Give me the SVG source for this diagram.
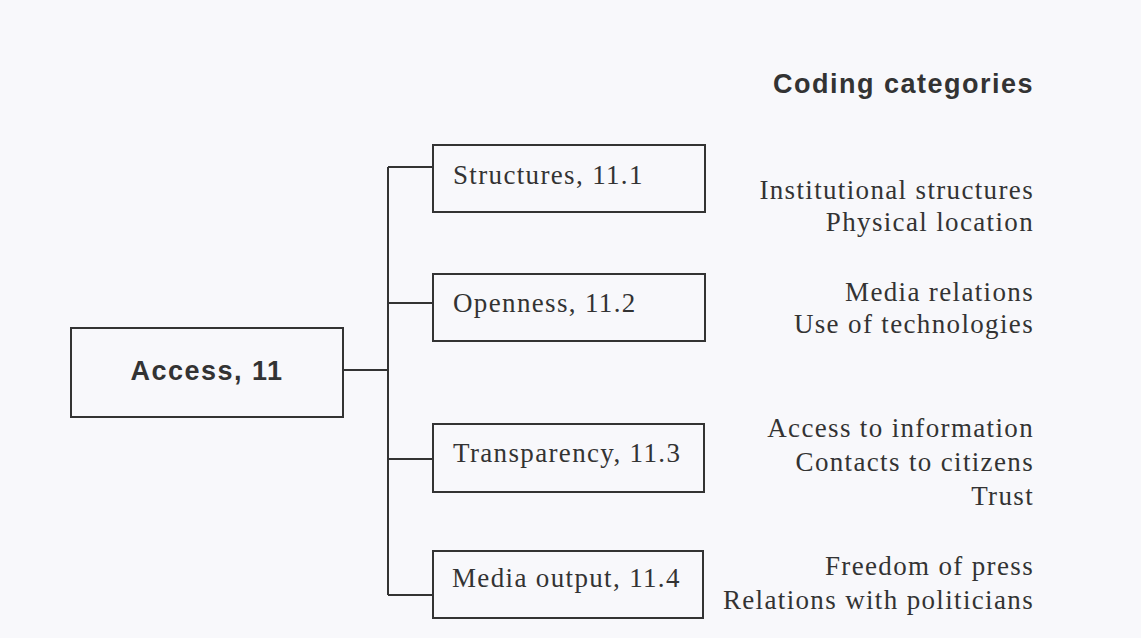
<svg xmlns="http://www.w3.org/2000/svg" width="1141" height="638" viewBox="0 0 1141 638">
<style>
.bg{fill:#f8f8fb}
.box{fill:none;stroke:#333;stroke-width:2}
.ln{fill:none;stroke:#333;stroke-width:2}
.ser{font-family:"Liberation Serif","Times New Roman",serif;font-size:27px;letter-spacing:1.35px;fill:#333}
.sb{font-family:"Liberation Sans",Arial,sans-serif;font-size:27px;font-weight:bold;letter-spacing:1.5px;fill:#333}
.r{text-anchor:end}
</style>
<rect class="bg" x="0" y="0" width="1141" height="638"/>
<g id="connectors">
<path class="ln" d="M343,370 H388 M388,167 V595 M388,167 H433 M388,303 H433 M388,459 H433 M388,595 H433"/>
</g>
<g id="access">
<rect class="box" x="71" y="328" width="272" height="89"/>
<text class="sb" x="207" y="380" text-anchor="middle">Access, 11</text>
</g>
<g id="structures">
<rect class="box" x="433" y="145" width="272" height="67"/>
<text class="ser" x="453" y="184">Structures, 11.1</text>
</g>
<g id="openness">
<rect class="box" x="433" y="274" width="272" height="67"/>
<text class="ser" x="453" y="312">Openness, 11.2</text>
</g>
<g id="transparency">
<rect class="box" x="433" y="424" width="271" height="68"/>
<text class="ser" x="453" y="462">Transparency, 11.3</text>
</g>
<g id="media-output">
<rect class="box" x="433" y="551" width="270" height="67"/>
<text class="ser" x="452" y="587">Media output, 11.4</text>
</g>
<g id="coding-categories">
<text class="sb r" x="1034" y="93">Coding categories</text>
<text class="ser r" x="1034" y="199">Institutional structures</text>
<text class="ser r" x="1034" y="231">Physical location</text>
<text class="ser r" x="1034" y="301">Media relations</text>
<text class="ser r" x="1034" y="333">Use of technologies</text>
<text class="ser r" x="1034" y="437">Access to information</text>
<text class="ser r" x="1034" y="471">Contacts to citizens</text>
<text class="ser r" x="1034" y="505">Trust</text>
<text class="ser r" x="1034" y="575">Freedom of press</text>
<text class="ser r" x="1034" y="609">Relations with politicians</text>
</g>
</svg>
